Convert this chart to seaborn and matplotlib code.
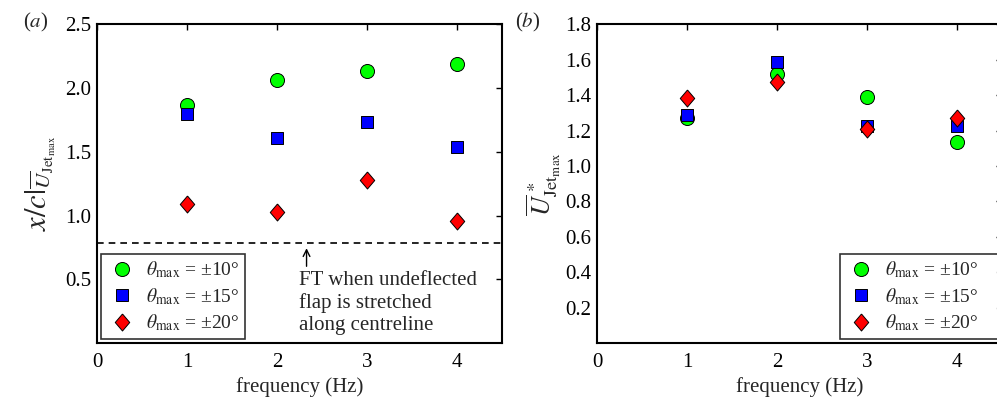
import matplotlib
matplotlib.use("Agg")
import matplotlib.pyplot as plt
import seaborn as sns
import pandas as pd
from matplotlib.lines import Line2D

sns.set_theme(style="white")
plt.rcParams['font.family'] = ['Liberation Serif', 'DejaVu Serif']
plt.rcParams['mathtext.fontset'] = 'stix'

freq = [1, 2, 3, 4]
labels = [r'$\theta_{\mathrm{max}}$ = ±10°', r'$\theta_{\mathrm{max}}$ = ±15°', r'$\theta_{\mathrm{max}}$ = ±20°']
# panel (a): x/c at U_jet max
a_10 = [1.87, 2.06, 2.13, 2.19]
a_15 = [1.80, 1.61, 1.73, 1.54]
a_20 = [1.09, 1.03, 1.28, 0.96]
ft_level = 0.785
# panel (b): U*_Jet max
b_10 = [1.268, 1.518, 1.39, 1.133]
b_15 = [1.287, 1.588, 1.225, 1.225]
b_20 = [1.385, 1.475, 1.206, 1.268]

colors = ['#00ff00', '#0000ff', '#ff0000']
diamond = [(0, 1), (0.85, 0), (0, -1), (-0.85, 0), (0, 1)]
markers = ['o', 's', diamond]
sizes = [102, 70, 150]
FS = 15
LFS = 14

W, H = 997, 401
fig = plt.figure(figsize=(W / 100, H / 100), dpi=100)
axa = fig.add_axes([97 / W, 1 - 343 / H, (501.7 - 97) / W, (343 - 24.3) / H])
axb = fig.add_axes([597 / W, 1 - 343 / H, (1002 - 597) / W, (343 - 24.3) / H])


def draw(ax, series):
    for vals, c, m, s in zip(series, colors, markers, sizes):
        df = pd.DataFrame({'f': freq, 'v': vals})
        sns.scatterplot(data=df, x='f', y='v', ax=ax, color=c, marker=m, s=s,
                        edgecolor='black', linewidth=0.7, zorder=3, legend=False)
    ax.set_xlim(0, 4.5)
    ax.set_xticks([0, 1, 2, 3, 4])
    ax.set_xlabel('frequency (Hz)', fontsize=FS, labelpad=4)
    ax.tick_params(direction='in', length=4, width=1, labelsize=FS, top=True, right=True,
                   colors='black')
    ax.tick_params(axis='x', pad=7)
    ax.tick_params(axis='y', pad=4)
    for sp in ax.spines.values():
        sp.set_linewidth(1.5)
        sp.set_color('black')
    ax.grid(False)


def make_legend(ax, **kw):
    handles = [Line2D([], [], linestyle='none', marker=m, color=c, markeredgecolor='black',
                      markeredgewidth=0.7, markersize=s ** 0.5)
               for m, c, s in zip(markers, colors, sizes)]
    leg = ax.legend(handles, labels, fontsize=LFS, frameon=True, fancybox=False,
                    edgecolor='black', borderpad=0.3, labelspacing=0.3, handletextpad=0.4,
                    handlelength=1.6, **kw)
    leg.get_frame().set_linewidth(1.2)
    leg.set_zorder(5)
    return leg


draw(axa, [a_10, a_15, a_20])
axa.set_ylim(0, 2.5)
axa.set_yticks([0.5, 1.0, 1.5, 2.0, 2.5])
axa.set_yticklabels(['0.5', '1.0', '1.5', '2.0', '2.5'])
axa.axhline(ft_level, color='black', linestyle=(0, (4, 3)), linewidth=1.2, zorder=2)
axa.annotate('', xy=(2.33, ft_level - 0.02), xytext=(2.33, 0.58),
             arrowprops=dict(arrowstyle='->', color='black', lw=1.0))
axa.text(2.25, 0.565, 'FT when undeflected\nflap is stretched\nalong centreline',
         fontsize=FS, va='top', ha='left', linespacing=1.2)
axa.set_ylabel(r'$x/c|_{\overline{U}_{\mathrm{Jet}_{\mathrm{max}}}}$', fontsize=22, labelpad=5)
make_legend(axa, loc='lower left', bbox_to_anchor=(101 / W, 1 - 339 / H),
            bbox_transform=fig.transFigure, borderaxespad=0.0)
fig.text(23 / W, 1 - 22 / H, r'($a$)', fontsize=FS, ha='left', va='center')

draw(axb, [b_10, b_15, b_20])
axb.set_ylim(0, 1.8)
axb.set_yticks([0.2, 0.4, 0.6, 0.8, 1.0, 1.2, 1.4, 1.6, 1.8])
axb.set_yticklabels(['0.2', '0.4', '0.6', '0.8', '1.0', '1.2', '1.4', '1.6', '1.8'])
axb.set_ylabel(r'$\overline{U}^{\,*}_{\mathrm{Jet}_{\mathrm{max}}}$', fontsize=19, labelpad=2)
make_legend(axb, loc='lower left', mode='expand',
            bbox_to_anchor=(840 / W, 1 - 339 / H, 162 / W, 96 / H),
            bbox_transform=fig.transFigure, borderaxespad=0.0)
fig.text(515 / W, 1 - 22 / H, r'($b$)', fontsize=FS, ha='left', va='center')

fig.savefig('out.png', dpi=100)
